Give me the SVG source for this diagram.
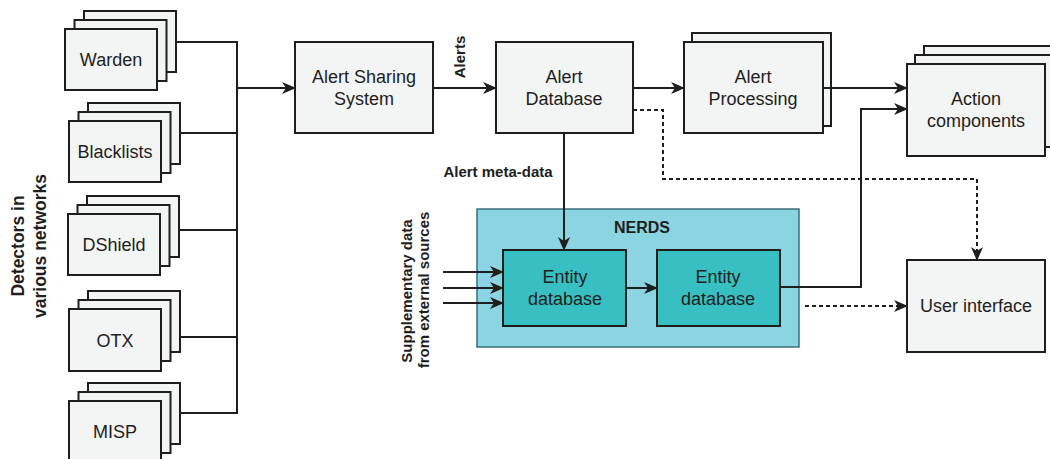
<svg xmlns="http://www.w3.org/2000/svg" width="1050" height="459" viewBox="0 0 1050 459">
<style>
.box{fill:#f3f4f4;stroke:#1e1e1e;stroke-width:2}
.nerds{fill:#8bd4e1;stroke:#3a6f78;stroke-width:1.5}
.ent{fill:#37bfc1;stroke:#1e1e1e;stroke-width:2}
.t{font-family:"Liberation Sans",Arial,sans-serif;font-size:18px;fill:#1e1e1e;text-anchor:middle}
.b{font-family:"Liberation Sans",Arial,sans-serif;font-weight:bold;fill:#1e1e1e;text-anchor:middle}
.ln{fill:none;stroke:#1e1e1e;stroke-width:2}
.dash{fill:none;stroke:#1e1e1e;stroke-width:2;stroke-dasharray:4 3}
</style>
<defs>
<marker id="ah" markerUnits="userSpaceOnUse" markerWidth="14" markerHeight="12" refX="13" refY="6" orient="auto">
<path d="M0,0 L14,6 L0,12 L4,6 z" fill="#1e1e1e"/>
</marker>
</defs>
<rect width="1050" height="459" fill="#ffffff"/>

<text class="b" font-size="17.5" transform="translate(24,246) rotate(-90)">Detectors in</text>
<text class="b" font-size="17.5" transform="translate(46,246) rotate(-90)">various networks</text>

<g id="warden">
<rect class="box" x="84" y="11" width="92" height="61"/>
<rect class="box" x="74.5" y="20" width="92" height="61"/>
<rect class="box" x="65" y="29" width="92" height="61"/>
<text class="t" x="111" y="66">Warden</text>
</g>
<g id="blacklists">
<rect class="box" x="88" y="103" width="92" height="61"/>
<rect class="box" x="78.5" y="112" width="92" height="61"/>
<rect class="box" x="69" y="121" width="92" height="61"/>
<text class="t" x="115" y="158">Blacklists</text>
</g>
<g id="dshield">
<rect class="box" x="87" y="196" width="92" height="61"/>
<rect class="box" x="77.5" y="205" width="92" height="61"/>
<rect class="box" x="68" y="214" width="92" height="61"/>
<text class="t" x="114" y="251">DShield</text>
</g>
<g id="otx">
<rect class="box" x="88" y="291" width="92" height="61"/>
<rect class="box" x="78.5" y="300" width="92" height="61"/>
<rect class="box" x="69" y="309" width="92" height="62"/>
<text class="t" x="115" y="347">OTX</text>
</g>
<g id="misp">
<rect class="box" x="88" y="383" width="92" height="61"/>
<rect class="box" x="78.5" y="392" width="92" height="61"/>
<rect class="box" x="69" y="401" width="92" height="62"/>
<text class="t" x="115" y="438">MISP</text>
</g>

<g id="alert-sharing">
<rect class="box" x="295" y="42" width="138" height="91"/>
<text class="t" x="364" y="83">Alert Sharing</text>
<text class="t" x="364" y="105">System</text>
</g>
<g id="alert-database">
<rect class="box" x="496" y="42" width="137" height="91"/>
<text class="t" x="564" y="83">Alert</text>
<text class="t" x="564" y="105">Database</text>
</g>
<g id="alert-processing">
<rect class="box" x="692" y="33" width="139" height="93"/>
<rect class="box" x="684" y="42" width="139" height="91"/>
<text class="t" x="753" y="83">Alert</text>
<text class="t" x="753" y="105">Processing</text>
</g>
<g id="action-components">
<rect class="box" x="924" y="46" width="146" height="92"/>
<rect class="box" x="915" y="55" width="146" height="92"/>
<rect class="box" x="907" y="64" width="138" height="92"/>
<text class="t" x="976" y="105">Action</text>
<text class="t" x="976" y="127">components</text>
</g>
<g id="nerds">
<rect class="nerds" x="477" y="209" width="322" height="138"/>
<text class="b" font-size="16" x="642" y="233">NERDS</text>
</g>
<g id="entity-db-1">
<rect class="ent" x="503" y="250" width="123" height="76"/>
<text class="t" x="565" y="283">Entity</text>
<text class="t" x="565" y="305">database</text>
</g>
<g id="entity-db-2">
<rect class="ent" x="657" y="250" width="123" height="76"/>
<text class="t" x="718" y="283">Entity</text>
<text class="t" x="718" y="305">database</text>
</g>
<g id="user-interface">
<rect class="box" x="907" y="260" width="138" height="92"/>
<text class="t" x="976" y="312">User interface</text>
</g>

<text class="b" font-size="15" transform="translate(465,57) rotate(-90)">Alerts</text>
<text class="b" font-size="15" x="498" y="177">Alert meta-data</text>
<text class="b" font-size="15" transform="translate(412,291) rotate(-90)">Supplementary data</text>
<text class="b" font-size="15" transform="translate(429,290) rotate(-90)">from external sources</text>

<g id="connectors">
<path class="ln" d="M176,42 H237 M180,133 H237 M179,230 H237 M180,337 H237 M180,413 H237 M237,41 V414"/>
<path class="ln" d="M237,88 H295" marker-end="url(#ah)"/>
<path class="ln" d="M433,88 H496" marker-end="url(#ah)"/>
<path class="ln" d="M633,88 H684" marker-end="url(#ah)"/>
<path class="ln" d="M823,88 H907" marker-end="url(#ah)"/>
<path class="dash" d="M633,110 H663 V179 H977 V260" marker-end="url(#ah)"/>
<path class="ln" d="M564,133 V250" marker-end="url(#ah)"/>
<path class="ln" d="M443,272 H503" marker-end="url(#ah)"/>
<path class="ln" d="M443,288 H503" marker-end="url(#ah)"/>
<path class="ln" d="M443,303 H503" marker-end="url(#ah)"/>
<path class="ln" d="M626,288 H657" marker-end="url(#ah)"/>
<path class="ln" d="M780,287 H861 V109 H907" marker-end="url(#ah)"/>
<path class="dash" d="M805,306 H907" marker-end="url(#ah)"/>
</g>
</svg>
